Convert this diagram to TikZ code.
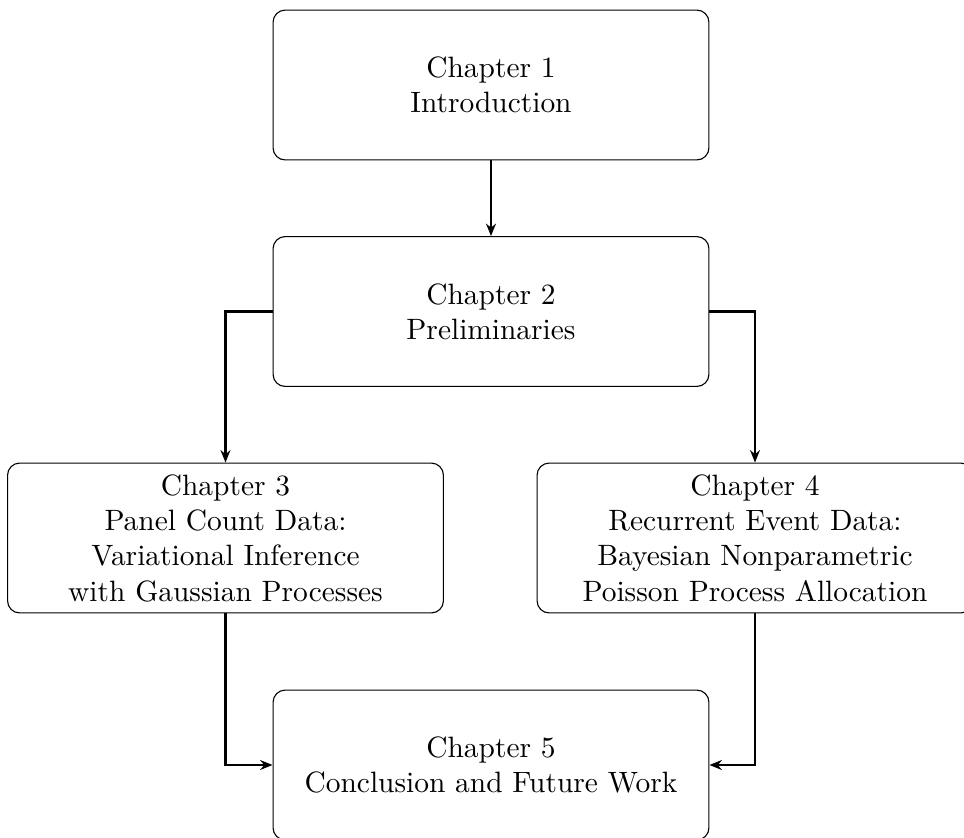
\documentclass[tikz,border=0pt]{standalone}
\usetikzlibrary{arrows.meta}
\begin{document}
\begin{tikzpicture}[x=0.36364pt,y=-0.36364pt,
  chapbox/.style={draw, rounded corners=4.4pt, line width=0.4pt, align=center,
    minimum width=158.5pt, minimum height=54.5pt, inner sep=2pt,
    font=\fontsize{10.7}{12.85}\selectfont},
  link/.style={line width=0.75pt, -{Stealth[length=4.5pt,width=3.6pt]}}]
\useasboundingbox (0,0) rectangle (964,838);
\node[chapbox] (c1) at (491,85) {Chapter 1\\Introduction};
\node[chapbox] (c2) at (491,311.5) {Chapter 2\\Preliminaries};
\node[chapbox] (c3) at (225.5,538) {Chapter 3\\Panel Count Data:\\Variational Inference\\with Gaussian Processes};
\node[chapbox] (c4) at (755,538) {Chapter 4\\Recurrent Event Data:\\Bayesian Nonparametric\\Poisson Process Allocation};
\node[chapbox] (c5) at (491,765) {Chapter 5\\Conclusion and Future Work};
\draw[link] (c1) -- (c2);
\draw[link] (c2.west) -| (c3.north);
\draw[link] (c2.east) -| (c4.north);
\draw[link] (c3.south) |- (c5.west);
\draw[link] (c4.south) |- (c5.east);
\end{tikzpicture}
\end{document}
